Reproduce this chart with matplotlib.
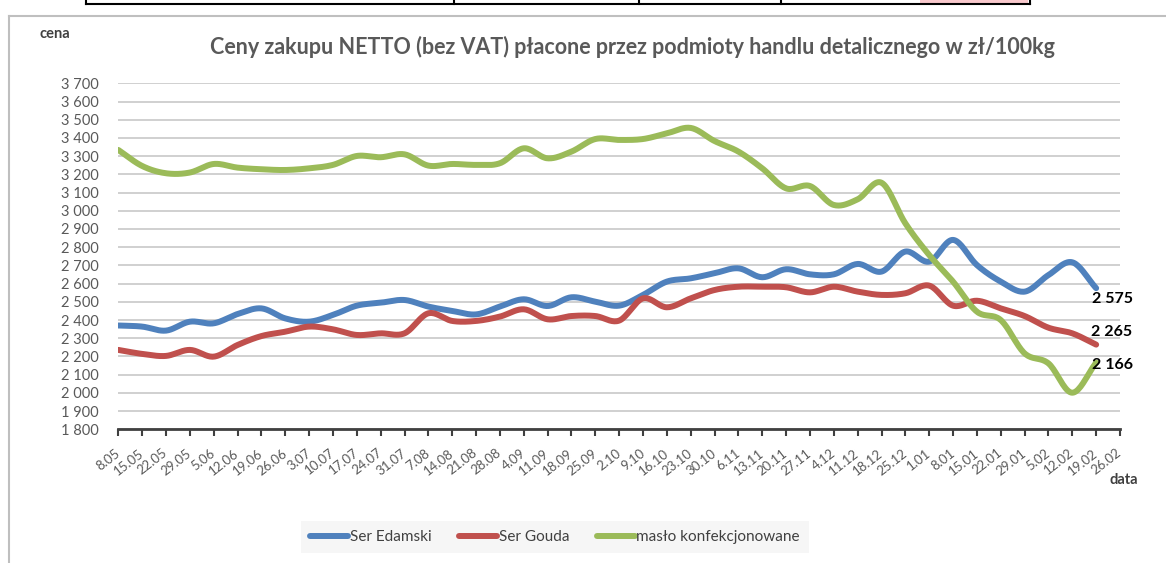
import matplotlib
matplotlib.use("Agg")
import matplotlib.pyplot as plt
import numpy as np
from matplotlib.lines import Line2D
from matplotlib.patches import Rectangle

dates = ['8.05', '15.05', '22.05', '29.05', '5.06', '12.06', '19.06', '26.06', '3.07', '10.07',
         '17.07', '24.07', '31.07', '7.08', '14.08', '21.08', '28.08', '4.09', '11.09', '18.09',
         '25.09', '2.10', '9.10', '16.10', '23.10', '30.10', '6.11', '13.11', '20.11', '27.11',
         '4.12', '11.12', '18.12', '25.12', '1.01', '8.01', '15.01', '22.01', '29.01', '5.02',
         '12.02', '19.02', '26.02']

edamski = [2370, 2364, 2342, 2391, 2382, 2433, 2464, 2409, 2391, 2428,
           2479, 2495, 2510, 2474, 2450, 2431, 2474, 2514, 2477, 2525,
           2501, 2479, 2538, 2611, 2629, 2657, 2684, 2635, 2679, 2651,
           2651, 2708, 2666, 2776, 2721, 2840, 2702, 2611, 2556, 2647,
           2717, 2575]
gouda = [2236, 2214, 2203, 2236, 2199, 2263, 2312, 2336, 2364, 2349,
         2318, 2327, 2327, 2437, 2395, 2395, 2419, 2459, 2404, 2422,
         2422, 2397, 2519, 2470, 2519, 2565, 2583, 2583, 2580, 2552,
         2583, 2556, 2538, 2547, 2589, 2479, 2506, 2464, 2422, 2358,
         2327, 2265]
maslo = [3334, 3246, 3206, 3210, 3257, 3237, 3228, 3224, 3233, 3252,
         3301, 3294, 3310, 3248, 3257, 3252, 3261, 3343, 3288, 3325,
         3394, 3389, 3394, 3425, 3455, 3383, 3325, 3233, 3123, 3136,
         3032, 3063, 3154, 2931, 2757, 2611, 2446, 2400, 2217, 2162,
         2001, 2166]

series = [('Ser Edamski', edamski, '#4F81BD'),
          ('Ser Gouda', gouda, '#C0504D'),
          ('masło konfekcjonowane', maslo, '#9BBB59')]


def smooth(y, n=20):
    # Catmull-Rom spline, like Excel's smoothed line
    y = np.asarray(y, float)
    x = np.arange(len(y), dtype=float)
    px = np.concatenate([[2 * x[0] - x[1]], x, [2 * x[-1] - x[-2]]])
    py = np.concatenate([[2 * y[0] - y[1]], y, [2 * y[-1] - y[-2]]])
    t = np.linspace(0, 1, n, endpoint=False)
    xs, ys = [], []
    for i in range(len(y) - 1):
        for p, out in ((px, xs), (py, ys)):
            p0, p1, p2, p3 = p[i], p[i + 1], p[i + 2], p[i + 3]
            out.append(0.5 * (2 * p1 + (-p0 + p2) * t
                              + (2 * p0 - 5 * p1 + 4 * p2 - p3) * t ** 2
                              + (-p0 + 3 * p1 - 3 * p2 + p3) * t ** 3))
    xs.append([x[-1]])
    ys.append([y[-1]])
    return np.concatenate(xs), np.concatenate(ys)


plt.rcParams['font.family'] = ['Lato', 'DejaVu Sans']
fig = plt.figure(figsize=(11.66, 5.63), dpi=100)
W, H = 1166, 563
ax = fig.add_axes([118.3 / W, 1 - 429.3 / H, (1120 - 118.3) / W, (429.3 - 83.3) / H])

for name, vals, col in series:
    sx, sy = smooth(vals)
    ax.plot(sx, sy, color=col, lw=4.3, solid_capstyle='round', label=name, zorder=3)

ax.set_xlim(0, len(dates) - 1)
ax.set_ylim(1800, 3700)
yt = np.arange(1800, 3701, 100)
ax.set_yticks(yt)
ax.set_yticklabels([f"{v:,}".replace(",", " ") for v in yt], color='#595959', fontsize=10.5)
ax.set_xticks(np.arange(len(dates)))
ax.set_xticklabels(dates, rotation=38, ha='right', va='center', rotation_mode='anchor',
                   color='#595959', fontsize=9.5)
ax.tick_params(axis='y', length=0, pad=14)
ax.tick_params(axis='x', length=5, width=1.5, color='#404040', direction='out', pad=11)
ax.grid(axis='y', color='#c8c8c8', lw=1.2, zorder=0)
for s in ['left', 'right', 'top']:
    ax.spines[s].set_visible(False)
ax.spines['bottom'].set_color('#404040')
ax.spines['bottom'].set_linewidth(2)

# end labels
last = len(edamski) - 1
ax.annotate(f"{edamski[-1]:,}".replace(",", " "), (last, edamski[-1]), xytext=(-3, -8),
            textcoords='offset points', ha='left', va='center', fontsize=11.5, fontweight='bold')
ax.annotate(f"{gouda[-1]:,}".replace(",", " "), (last, gouda[-1]), xytext=(-4, 9),
            textcoords='offset points', ha='left', va='center', fontsize=11.5, fontweight='bold')
ax.annotate(f"{maslo[-1]:,}".replace(",", " "), (last, maslo[-1]), xytext=(-3, -2),
            textcoords='offset points', ha='left', va='center', fontsize=11.5, fontweight='bold')

fig.text(632 / W, 1 - 47 / H, 'Ceny zakupu NETTO (bez VAT) płacone przez podmioty handlu detalicznego w zł/100kg',
         ha='center', va='center', fontsize=15.5, fontweight='bold', color='#595959')
fig.text(55 / W, 1 - 34 / H, 'cena', ha='center', va='center', fontsize=10.5, fontweight='bold', color='#404040')
fig.text(1124 / W, 1 - 480 / H, 'data', ha='center', va='center', fontsize=10.5, fontweight='bold', color='#404040')

leg = fig.legend(loc='center', bbox_to_anchor=(555 / W, 1 - 537 / H), ncol=3, frameon=True,
                 fontsize=11, handlelength=2.5, handletextpad=0.1, columnspacing=1.8,
                 fancybox=False, borderpad=0.6)
leg.get_frame().set_facecolor('#f4f4f4')
leg.get_frame().set_edgecolor('none')
for t in leg.get_texts():
    t.set_color('#404040')

# outer frame and screenshot remnants at the top
fig.add_artist(Line2D([9 / W, 9 / W], [0, 1 - 16 / H], color='#bfbfbf', lw=1.5))
fig.add_artist(Line2D([9 / W, 1], [1 - 16 / H, 1 - 16 / H], color='#bfbfbf', lw=1.5))
fig.add_artist(Rectangle((920 / W, 1 - 5 / H), 108 / W, 5 / H, color='#f8c8cc', lw=0))
fig.add_artist(Line2D([86 / W, 1030 / W], [1 - 4 / H, 1 - 4 / H], color='black', lw=1.5))
for xv in [86, 454, 639, 781, 1030]:
    fig.add_artist(Line2D([xv / W, xv / W], [1 - 4 / H, 1], color='black', lw=1.5))

fig.savefig('out.png', dpi=100)
